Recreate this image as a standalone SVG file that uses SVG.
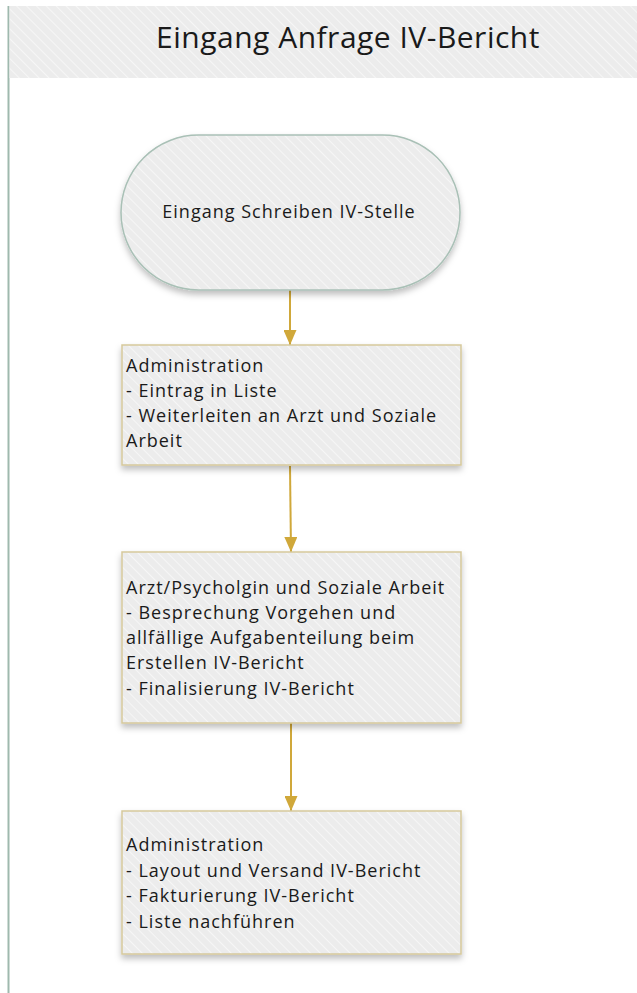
<svg xmlns="http://www.w3.org/2000/svg" width="637" height="993" viewBox="0 0 637 993">
<style>
.t{font-family:"Open Sans","Noto Sans","Liberation Sans",sans-serif;font-size:18px;letter-spacing:1px;fill:#1a1a1a}
.title{font-family:"Open Sans","Noto Sans","Liberation Sans",sans-serif;font-size:30px;letter-spacing:0.5px;fill:#1a1a1a}
.box{fill:url(#hatch);stroke:#d6c99c;stroke-width:1.5}
.term{fill:url(#hatch);stroke:#a9c0b6;stroke-width:1.5}
.con{stroke:#d0a83a;stroke-width:2;fill:none}
</style>
<defs>
<pattern id="hatch" patternUnits="userSpaceOnUse" width="7" height="7" patternTransform="rotate(-45)">
<rect width="7" height="7" fill="#ececec"/>
<line x1="0" y1="0" x2="0" y2="7" stroke="#f6f6f6" stroke-width="2"/>
</pattern>
<filter id="sh" x="-10%" y="-10%" width="120%" height="130%">
<feDropShadow dx="0" dy="4" stdDeviation="3" flood-color="#000" flood-opacity="0.25"/>
</filter>
<marker id="arr" viewBox="0 0 15 13" refX="15" refY="6.5" markerWidth="15" markerHeight="13" orient="auto" markerUnits="userSpaceOnUse">
<path d="M0,0 L15,6.5 L0,13 z" fill="#d0a83a"/>
</marker>
</defs>
<rect width="637" height="993" fill="#fff"/>
<g id="lane">
<line x1="8.5" y1="6" x2="8.5" y2="993" stroke="#9fb9ae" stroke-width="2"/>
<rect x="9.5" y="6" width="627.5" height="72" fill="url(#hatch)"/>
<line x1="10" y1="78.5" x2="637" y2="78.5" stroke="#a9bdb5" stroke-width="1.5" filter="url(#sh)"/>
<text class="title" x="348" y="48" text-anchor="middle">Eingang Anfrage IV-Bericht</text>
</g>
<g id="connectors">
<line class="con" x1="290" y1="290" x2="290" y2="345" marker-end="url(#arr)"/>
<line class="con" x1="290" y1="466" x2="291" y2="552" marker-end="url(#arr)"/>
<line class="con" x1="291" y1="723" x2="291" y2="811" marker-end="url(#arr)"/>
</g>
<g id="start">
<rect class="term" x="121" y="135" width="339" height="155" rx="77.5" ry="77.5" filter="url(#sh)"/>
<text class="t" x="289" y="218" text-anchor="middle">Eingang Schreiben IV-Stelle</text>
</g>
<g id="admin1">
<rect class="box" x="122" y="345" width="339" height="120" filter="url(#sh)"/>
<text class="t" x="126" y="372">Administration</text>
<text class="t" x="126" y="397">- Eintrag in Liste</text>
<text class="t" x="126" y="422">- Weiterleiten an Arzt und Soziale</text>
<text class="t" x="126" y="447">Arbeit</text>
</g>
<g id="arzt">
<rect class="box" x="122" y="552" width="339" height="171" filter="url(#sh)"/>
<text class="t" x="126" y="594">Arzt/Psycholgin und Soziale Arbeit</text>
<text class="t" x="126" y="619">- Besprechung Vorgehen und</text>
<text class="t" x="126" y="644">allfällige Aufgabenteilung beim</text>
<text class="t" x="126" y="669">Erstellen IV-Bericht</text>
<text class="t" x="126" y="695">- Finalisierung IV-Bericht</text>
</g>
<g id="admin2">
<rect class="box" x="122" y="811" width="339" height="143" filter="url(#sh)"/>
<text class="t" x="126" y="851">Administration</text>
<text class="t" x="126" y="877">- Layout und Versand IV-Bericht</text>
<text class="t" x="126" y="902">- Fakturierung IV-Bericht</text>
<text class="t" x="126" y="928">- Liste nachführen</text>
</g>
</svg>
